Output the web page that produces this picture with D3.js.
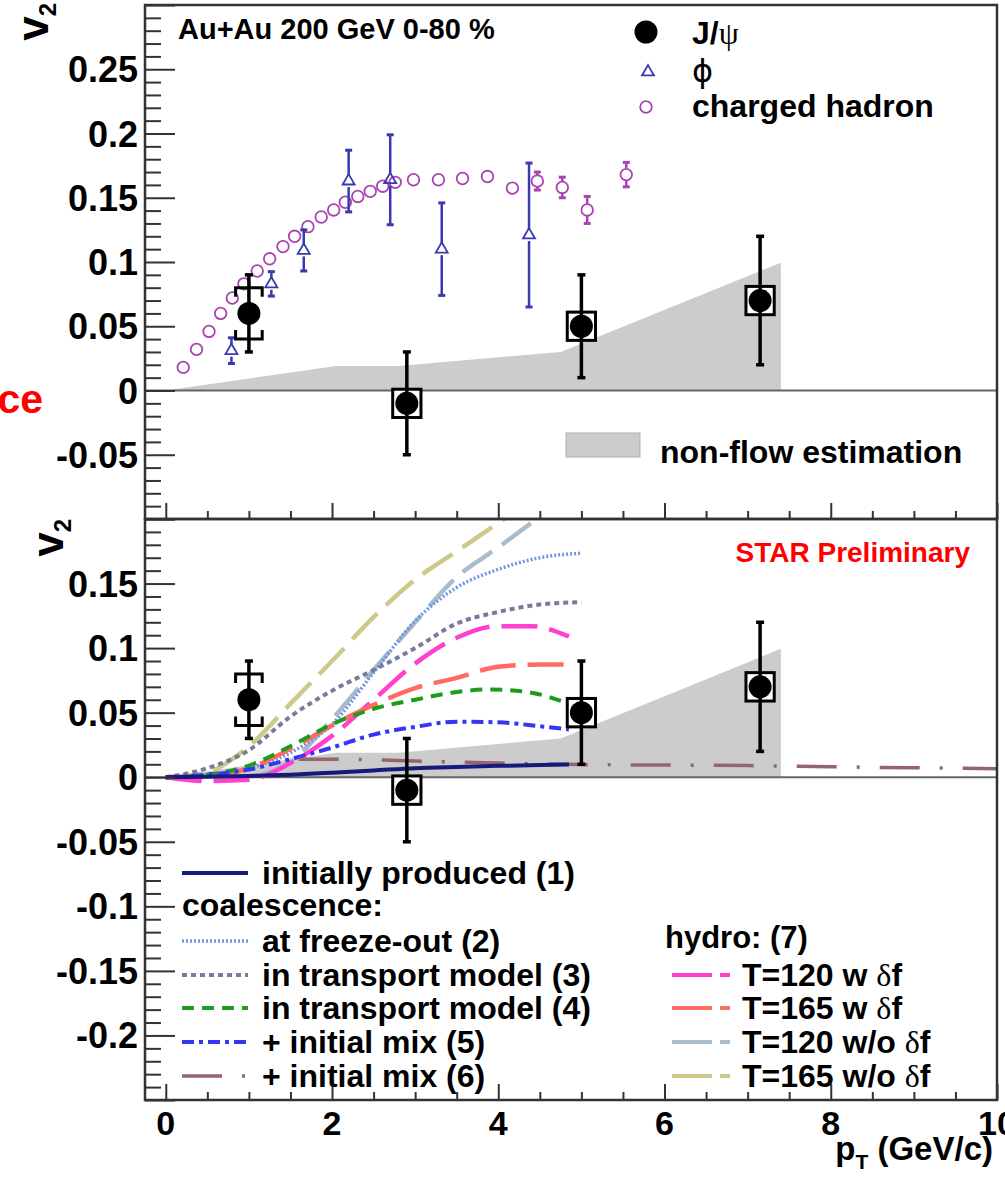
<!DOCTYPE html>
<html>
<head>
<meta charset="utf-8">
<script src="https://cdn.jsdelivr.net/npm/d3@7"></script>
<style>
  body { margin: 0; background: #fff; }
  text { font-family: "Liberation Sans", Arial, Helvetica, sans-serif; font-weight: bold; fill: #000; }
</style>
</head>
<body>
<svg id="chart" width="1005" height="1179"></svg>
<script>
// ---------- measured data ----------
// J/psi v2 (Au+Au 200 GeV, 0-80 %)
const jpsiPt    = [1.0, 2.9, 5.0, 7.15];
const jpsiV2    = [0.06, -0.01, 0.05, 0.07];
const jpsiStat  = [0.03, 0.04, 0.04, 0.05];
const jpsiSys   = [0.02, 0.011, 0.011, 0.011];
const jpsiSysPt = [0.16, 0.17, 0.17, 0.17];

// phi meson v2
const phiPt  = [0.79, 1.27, 1.66, 2.20, 2.70, 3.32, 4.37];
const phiV2  = [0.031, 0.083, 0.109, 0.163, 0.164, 0.110, 0.121];
const phiErr = [0.010, 0.0095, 0.016, 0.024, 0.035, 0.036, 0.056];

// charged hadron v2
const chPt  = [0.21, 0.37, 0.52, 0.66, 0.80, 0.94, 1.10, 1.25, 1.41, 1.55, 1.71, 1.87, 2.02, 2.16,
               2.31, 2.46, 2.61, 2.76, 2.98, 3.28, 3.57, 3.87, 4.17, 4.47, 4.77, 5.07, 5.54];
const chV2  = [0.018, 0.032, 0.046, 0.060, 0.072, 0.083, 0.093, 0.1025, 0.112, 0.120, 0.1275, 0.135, 0.1405, 0.1465,
               0.151, 0.155, 0.159, 0.162, 0.164, 0.164, 0.165, 0.1665, 0.1575, 0.163, 0.158, 0.1405, 0.168];
const chErr = [0.001, 0.001, 0.001, 0.001, 0.001, 0.001, 0.001, 0.001, 0.001, 0.001, 0.001, 0.001, 0.001, 0.001,
               0.001, 0.001, 0.001, 0.001, 0.002, 0.002, 0.002, 0.002, 0.003, 0.007, 0.008, 0.0105, 0.0095];

// non-flow estimation band (upper edge)
const nonFlowPt = [0, 2.05, 2.8, 4.75, 7.4, 7.4];
const nonFlowV2 = [0, 0.019, 0.019, 0.030, 0.0995, 0];

// model calculations
const initPt   = [0, 0.5, 1, 1.5, 2, 2.5, 3, 3.5, 4, 4.5, 4.85];
const initV2   = [0, 0.0003, 0.001, 0.002, 0.0035, 0.0052, 0.007, 0.008, 0.0088, 0.0094, 0.0098];

const freezePt = [0, 0.5, 1, 1.5, 2, 2.5, 3, 3.5, 4, 4.5, 5];
const freezeV2 = [0, 0.002, 0.007, 0.019, 0.041, 0.081, 0.121, 0.147, 0.161, 0.170, 0.1735];

const trans3Pt = [0, 0.5, 1, 1.5, 2, 2.5, 3, 3.5, 4, 4.5, 5];
const trans3V2 = [0, 0.007, 0.021, 0.047, 0.067, 0.083, 0.100, 0.119, 0.128, 0.1338, 0.1356];

const trans4Pt = [0, 0.5, 1, 1.5, 2, 2.5, 3, 3.5, 3.9, 4.4, 4.8];
const trans4V2 = [0, 0.002, 0.009, 0.024, 0.041, 0.053, 0.060, 0.066, 0.068, 0.0655, 0.058];

const mix5Pt   = [0, 0.5, 1, 1.5, 2, 2.5, 3, 3.5, 4, 4.5, 4.85];
const mix5V2   = [0, 0.002, 0.006, 0.014, 0.023, 0.033, 0.039, 0.043, 0.0425, 0.0395, 0.037];

const mix6Pt   = [1.6, 2.5, 3, 4, 5, 6, 7, 8, 9, 10];
const mix6V2   = [0.014, 0.0135, 0.0125, 0.011, 0.0098, 0.0094, 0.009, 0.0081, 0.0073, 0.0066];

const hT120wPt  = [0, 0.5, 1, 1.5, 2, 2.5, 3, 3.5, 4, 4.4, 4.85];
const hT120wV2  = [0, -0.003, -0.002, 0.011, 0.032, 0.060, 0.088, 0.108, 0.117, 0.117, 0.109];

const hT165wPt  = [0, 0.5, 1, 1.5, 2, 2.5, 3, 3.5, 4, 4.5, 4.85];
const hT165wV2  = [0, 0.001, 0.007, 0.022, 0.040, 0.056, 0.069, 0.077, 0.0855, 0.0873, 0.0873];

const hT120woPt = [0, 0.5, 1, 1.5, 2, 2.5, 3, 3.5, 4, 4.5];
const hT120woV2 = [0, -0.001, 0.001, 0.012, 0.045, 0.083, 0.120, 0.155, 0.178, 0.202];

const hT165woPt = [0, 0.5, 1, 1.5, 2, 2.5, 3, 3.5, 4, 4.2];
const hT165woV2 = [0, 0.004, 0.024, 0.057, 0.090, 0.124, 0.153, 0.175, 0.197, 0.206];

// axis ticks
const xTicks      = [0, 2, 4, 6, 8, 10];
const topYTicks   = [-0.05, 0, 0.05, 0.1, 0.15, 0.2, 0.25];
const botYTicks   = [-0.2, -0.15, -0.1, -0.05, 0, 0.05, 0.1, 0.15];

// legend labels
const modelLabels = ["initially produced (1)", "at freeze-out (2)", "in transport model (3)",
                     "in transport model (4)", "+ initial mix (5)", "+ initial mix (6)"];
const hydroLabels = ["T=120 w ", "T=165 w ", "T=120 w/o ", "T=165 w/o "];

// ---------- scales ----------
const svg = d3.select("#chart");
const x    = d3.scaleLinear().domain([-0.25, 10]).range([145, 997]);
const yTop = d3.scaleLinear().domain([-0.1, 0.3]).range([519, 5]);
const yBot = d3.scaleLinear().domain([-0.25, 0.2]).range([1100, 519]);

const zip = (a, b) => a.map((v, i) => [v, b[i]]);

svg.append("rect").attr("width", 1005).attr("height", 1179).attr("fill", "#fff");

const defs = svg.append("defs");
defs.append("clipPath").attr("id", "clipTop").append("rect")
  .attr("x", x(-0.25)).attr("y", yTop(0.3)).attr("width", x(10) - x(-0.25)).attr("height", yTop(-0.1) - yTop(0.3));
defs.append("clipPath").attr("id", "clipBot").append("rect")
  .attr("x", x(-0.25)).attr("y", yBot(0.2)).attr("width", x(10) - x(-0.25)).attr("height", yBot(-0.25) - yBot(0.2));

// ---------- panel content ----------
function drawBand(g, y) {
  g.append("path")
    .attr("d", d3.line().x(d => x(d[0])).y(d => y(d[1]))(zip(nonFlowPt, nonFlowV2)) + "Z")
    .attr("fill", "#cccccc").attr("stroke", "none");
  g.append("line")
    .attr("x1", x(-0.25)).attr("x2", x(10)).attr("y1", y(0)).attr("y2", y(0))
    .attr("stroke", "#666").attr("stroke-width", 2);
}

function drawJpsi(g, y) {
  jpsiPt.forEach((p, i) => {
    const cx = x(p), cy = y(jpsiV2[i]);
    // statistical error bar
    g.append("line").attr("x1", cx).attr("x2", cx)
      .attr("y1", y(jpsiV2[i] + jpsiStat[i])).attr("y2", y(jpsiV2[i] - jpsiStat[i]))
      .attr("stroke", "#000").attr("stroke-width", 3.5);
    [jpsiV2[i] + jpsiStat[i], jpsiV2[i] - jpsiStat[i]].forEach(v => {
      g.append("line").attr("x1", cx - 4).attr("x2", cx + 4).attr("y1", y(v)).attr("y2", y(v))
        .attr("stroke", "#000").attr("stroke-width", 3.5);
    });
    const x0 = x(p - jpsiSysPt[i]), x1 = x(p + jpsiSysPt[i]);
    const yHi = y(jpsiV2[i] + jpsiSys[i]), yLo = y(jpsiV2[i] - jpsiSys[i]);
    if (i === 0) {
      // bracket-style systematic error
      g.append("path")
        .attr("d", `M${x0},${yHi + 9}V${yHi}H${x1}V${yHi + 9}M${x0},${yLo - 9}V${yLo}H${x1}V${yLo - 9}`)
        .attr("fill", "none").attr("stroke", "#000").attr("stroke-width", 3);
    } else {
      // box-style systematic error
      g.append("rect").attr("x", x0).attr("y", yHi).attr("width", x1 - x0).attr("height", yLo - yHi)
        .attr("fill", "#fff").attr("stroke", "#000").attr("stroke-width", 3);
      g.append("line").attr("x1", cx).attr("x2", cx).attr("y1", yHi).attr("y2", yLo)
        .attr("stroke", "#000").attr("stroke-width", 3.5);
    }
    g.append("circle").attr("cx", cx).attr("cy", cy).attr("r", 11.5).attr("fill", "#000");
  });
}

// open-marker error bars drawn outside the marker
function openErr(g, cx, cy, yHi, yLo, r, color, w) {
  if (cy - r > yHi) g.append("line").attr("x1", cx).attr("x2", cx).attr("y1", yHi).attr("y2", cy - r)
    .attr("stroke", color).attr("stroke-width", w);
  if (cy + r < yLo) g.append("line").attr("x1", cx).attr("x2", cx).attr("y1", cy + r).attr("y2", yLo)
    .attr("stroke", color).attr("stroke-width", w);
  if (yLo - yHi > 2 * r) {
    [yHi, yLo].forEach(yy => g.append("line").attr("x1", cx - 3.5).attr("x2", cx + 3.5)
      .attr("y1", yy).attr("y2", yy).attr("stroke", color).attr("stroke-width", 3));
  }
}

const phiColor = "#3a3aae";
const chColor = "#a844b0";
const tri = d3.symbol().type(d3.symbolTriangle).size(62);

// ---------- top panel ----------
const gTop = svg.append("g").attr("clip-path", "url(#clipTop)");
drawBand(gTop, yTop);

chPt.forEach((p, i) => {
  const cx = x(p), cy = yTop(chV2[i]);
  openErr(gTop, cx, cy, yTop(chV2[i] + chErr[i]), yTop(chV2[i] - chErr[i]), 6, chColor, 2.5);
  gTop.append("circle").attr("cx", cx).attr("cy", cy).attr("r", 5.8)
    .attr("fill", "none").attr("stroke", chColor).attr("stroke-width", 1.8);
});

phiPt.forEach((p, i) => {
  const cx = x(p), cy = yTop(phiV2[i]);
  openErr(gTop, cx, cy, yTop(phiV2[i] + phiErr[i]), yTop(phiV2[i] - phiErr[i]), 6, phiColor, 2.5);
  gTop.append("path").attr("d", tri).attr("transform", `translate(${cx},${cy})`)
    .attr("fill", "none").attr("stroke", phiColor).attr("stroke-width", 1.8);
});

drawJpsi(gTop, yTop);

// ---------- bottom panel ----------
const gBot = svg.append("g").attr("clip-path", "url(#clipBot)");
drawBand(gBot, yBot);

const models = [
  { pt: initPt,    v2: initV2,    color: "#161a7a", w: 4,   dash: null },
  { pt: freezePt,  v2: freezeV2,  color: "#7396e0", w: 3.5, dash: "2,2" },
  { pt: trans3Pt,  v2: trans3V2,  color: "#7a7a9c", w: 4,   dash: "5,4" },
  { pt: trans4Pt,  v2: trans4V2,  color: "#1c9c1c", w: 4,   dash: "12,8" },
  { pt: mix5Pt,    v2: mix5V2,    color: "#3535f5", w: 4,   dash: "12,5,4,5" },
  { pt: mix6Pt,    v2: mix6V2,    color: "#96646e", w: 3.5, dash: "40,20,3,20" }
];
const hydro = [
  { pt: hT120wPt,  v2: hT120wV2,  color: "#ff3fcf", w: 4.5, dash: "36,12" },
  { pt: hT165wPt,  v2: hT165wV2,  color: "#ff6a62", w: 4.5, dash: "36,12" },
  { pt: hT120woPt, v2: hT120woV2, color: "#a9bccb", w: 4.5, dash: "36,12" },
  { pt: hT165woPt, v2: hT165woV2, color: "#cdc98a", w: 4.5, dash: "36,12" }
];

const curve = d3.line().x(d => x(d[0])).y(d => yBot(d[1])).curve(d3.curveMonotoneX);
// draw order: hydro underneath, then transport/coalescence models
[hydro[3], hydro[2], models[1], models[2], hydro[0], hydro[1], models[3], models[4], models[5], models[0]]
  .forEach(m => {
    gBot.append("path").attr("d", curve(zip(m.pt, m.v2)))
      .attr("fill", "none").attr("stroke", m.color).attr("stroke-width", m.w)
      .attr("stroke-dasharray", m.dash);
  });

drawJpsi(gBot, yBot);

// ---------- axes ----------
function yAxis(y, lo, hi, labelTicks) {
  const minor = d3.range(Math.round(lo * 100), Math.round(hi * 100) + 1).map(i => i / 100)
    .filter(v => Math.abs(Math.round(v * 100) % 5) !== 0);
  const major = d3.range(Math.round(lo * 20), Math.round(hi * 20) + 1).map(i => i / 20);
  const gm = svg.append("g").attr("transform", `translate(${x(-0.25)},0)`)
    .call(d3.axisRight(y).tickValues(minor).tickSize(16).tickFormat(""));
  const gM = svg.append("g").attr("transform", `translate(${x(-0.25)},0)`)
    .call(d3.axisRight(y).tickValues(major).tickSize(30).tickFormat(""));
  [gm, gM].forEach(g => {
    g.select(".domain").remove();
    g.selectAll("line").attr("stroke", "#333").attr("stroke-width", 2);
  });
  labelTicks.forEach(v => {
    svg.append("text").attr("x", 138).attr("y", y(v) + 13).attr("text-anchor", "end")
      .attr("font-size", 36).text(String(+v.toFixed(2)));
  });
}
function xAxis(yPos) {
  const minor = d3.range(0, 10.01, 0.5).filter(v => v % 2 !== 0);
  const gm = svg.append("g").attr("transform", `translate(0,${yPos})`)
    .call(d3.axisTop(x).tickValues(minor).tickSize(8).tickFormat(""));
  const gM = svg.append("g").attr("transform", `translate(0,${yPos})`)
    .call(d3.axisTop(x).tickValues(xTicks).tickSize(16).tickFormat(""));
  [gm, gM].forEach(g => {
    g.select(".domain").remove();
    g.selectAll("line").attr("stroke", "#333").attr("stroke-width", 2);
  });
}

yAxis(yTop, -0.1, 0.3, topYTicks);
yAxis(yBot, -0.25, 0.2, botYTicks);
xAxis(yTop(-0.1));
xAxis(yBot(-0.25));

// frames
[[yTop(0.3), yTop(-0.1)], [yBot(0.2), yBot(-0.25)]].forEach(([t, b]) => {
  svg.append("rect").attr("x", x(-0.25)).attr("y", t).attr("width", x(10) - x(-0.25)).attr("height", b - t)
    .attr("fill", "none").attr("stroke", "#333").attr("stroke-width", 2.5);
});

xTicks.forEach(v => {
  svg.append("text").attr("x", x(v)).attr("y", 1135).attr("text-anchor", "middle")
    .attr("font-size", 34).text(v);
});

// axis titles
const xt = svg.append("text").attr("x", 993).attr("y", 1160).attr("text-anchor", "end").attr("font-size", 33);
xt.append("tspan").text("p");
xt.append("tspan").attr("font-size", 21).attr("dy", 9).text("T");
xt.append("tspan").attr("dy", -9).text(" (GeV/c)");

[[48, 3], [63, 519]].forEach(([bx, by]) => {
  const t = svg.append("text").attr("transform", `translate(${bx},${by}) rotate(-90)`)
    .attr("text-anchor", "end").attr("font-size", 44);
  t.append("tspan").text("v");
  t.append("tspan").attr("font-size", 24).attr("dy", 8).text("2");
});

// ---------- annotations & legends ----------
svg.append("text").attr("x", 43).attr("y", 413).attr("text-anchor", "end")
  .attr("font-size", 41).style("fill", "#ff0000").text("ce");

svg.append("text").attr("x", 178).attr("y", 39).attr("font-size", 29).text("Au+Au 200 GeV 0-80 %");

// top legend
svg.append("circle").attr("cx", 646).attr("cy", 32).attr("r", 11.5).attr("fill", "#000");
const lj = svg.append("text").attr("x", 692).attr("y", 44).attr("font-size", 32);
lj.append("tspan").text("J/");
lj.append("tspan").style("font-family", "'Liberation Serif', serif").style("font-weight", "normal").text("ψ");
svg.append("path").attr("d", tri).attr("transform", "translate(648,72)")
  .attr("fill", "none").attr("stroke", phiColor).attr("stroke-width", 1.8);
svg.append("text").attr("x", 692).attr("y", 82).attr("font-size", 32)
  .style("font-family", "'DejaVu Sans', sans-serif").style("font-weight", "normal").text("ϕ");
svg.append("circle").attr("cx", 646).attr("cy", 107).attr("r", 5.8)
  .attr("fill", "none").attr("stroke", chColor).attr("stroke-width", 1.8);
svg.append("text").attr("x", 692).attr("y", 117).attr("font-size", 32).text("charged hadron");

svg.append("rect").attr("x", 566).attr("y", 433).attr("width", 74).attr("height", 24)
  .attr("fill", "#cccccc").attr("stroke", "#b0b0b0").attr("stroke-width", 1);
svg.append("text").attr("x", 660).attr("y", 463).attr("font-size", 32).text("non-flow estimation");

svg.append("text").attr("x", 970).attr("y", 562).attr("text-anchor", "end").attr("font-size", 28)
  .style("fill", "#ff0000").text("STAR Preliminary");

// bottom legend: models (1)-(6)
const rowLineY = [873, 941, 975, 1008, 1042, 1076];
models.forEach((m, i) => {
  svg.append("line").attr("x1", 182).attr("x2", 248).attr("y1", rowLineY[i]).attr("y2", rowLineY[i])
    .attr("stroke", m.color).attr("stroke-width", m.w).attr("stroke-dasharray", m.dash);
  svg.append("text").attr("x", 262).attr("y", rowLineY[i] + 11).attr("font-size", 32).text(modelLabels[i]);
});
svg.append("text").attr("x", 182).attr("y", 916).attr("font-size", 32).text("coalescence:");

// bottom legend: hydro (7)
svg.append("text").attr("x", 665).attr("y", 948).attr("font-size", 31).text("hydro: (7)");
const hydroLineY = [975, 1008, 1042, 1076];
hydro.forEach((m, i) => {
  svg.append("line").attr("x1", 672).attr("x2", 730).attr("y1", hydroLineY[i]).attr("y2", hydroLineY[i])
    .attr("stroke", m.color).attr("stroke-width", 4).attr("stroke-dasharray", "40,8");
  const t = svg.append("text").attr("x", 742).attr("y", hydroLineY[i] + 11).attr("font-size", 32);
  t.append("tspan").text(hydroLabels[i]);
  t.append("tspan").style("font-family", "'Liberation Serif', serif").style("font-weight", "normal").text("δ");
  t.append("tspan").text("f");
});
</script>
</body>
</html>
